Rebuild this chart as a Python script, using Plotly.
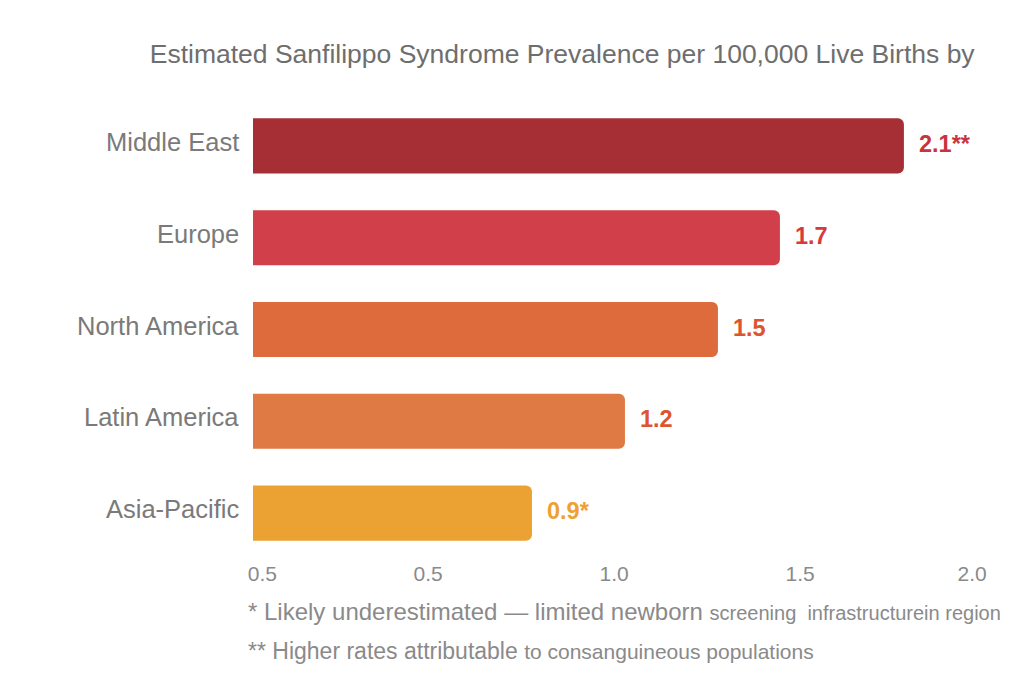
import plotly.graph_objects as go

regions = ["Middle East", "Europe", "North America", "Latin America", "Asia-Pacific"]
prevalence = [2.1, 1.7, 1.5, 1.2, 0.9]
value_labels = ["2.1**", "1.7", "1.5", "1.2", "0.9*"]
bar_colors = ["#a52f34", "#d1404a", "#dd6b3c", "#e07a44", "#eca233"]
label_colors = ["#c8343c", "#d63a40", "#dc5430", "#dc5430", "#f0a030"]
tick_labels = ["0.5", "0.5", "1.0", "1.5", "2.0"]
tick_positions = [0.03, 0.565, 1.165, 1.765, 2.32]

title_text = "Estimated Sanfilippo Syndrome Prevalence per 100,000 Live Births by"
note1 = ("* Likely underestimated \u2014 limited newborn "
         "<span style='font-size:20px'>screening  infrastructurein region</span>")
note2 = ("** Higher rates attributable "
         "<span style='font-size:21px'>to consanguineous populations</span>")

FONT = "Liberation Sans, Arial, sans-serif"

fig = go.Figure()
fig.add_trace(go.Bar(
    x=prevalence, y=regions, orientation="h",
    marker=dict(color=bar_colors, line=dict(width=0)),
    hoverinfo="skip",
))

for v, r, t, c in zip(prevalence, regions, value_labels, label_colors):
    fig.add_annotation(x=v, y=r, text=f"<b>{t}</b>", showarrow=False,
                       xanchor="left", xshift=13, yshift=2,
                       font=dict(family=FONT, size=23.5, color=c))

# category labels (slightly raised relative to bar centres, as in the reference)
for r in regions:
    fig.add_annotation(xref="paper", x=0, y=r, text=r, showarrow=False,
                       xanchor="right", xshift=-12, yshift=4,
                       font=dict(family=FONT, size=25.5, color="#7a7a7a"))

fig.add_annotation(xref="paper", yref="paper", x=0, y=-0.115, xshift=-7,
                   xanchor="left", yanchor="middle", showarrow=False,
                   text=note1, font=dict(family=FONT, size=24, color="#8a8a8a"))
fig.add_annotation(xref="paper", yref="paper", x=0, y=-0.2, xshift=-7,
                   xanchor="left", yanchor="middle", showarrow=False,
                   text=note2, font=dict(family=FONT, size=23, color="#8a8a8a"))

fig.update_layout(
    width=1024, height=683,
    margin=dict(l=253, r=24, t=100, b=124),
    paper_bgcolor="white", plot_bgcolor="white",
    bargap=0.4, barcornerradius=6,
    showlegend=False,
    title=dict(text=title_text, x=0.549, xanchor="center", y=0.922, yanchor="middle",
               font=dict(family=FONT, size=26.5, color="#6e6e6e")),
    xaxis=dict(range=[0, 2.41], tickvals=tick_positions, ticktext=tick_labels,
               showgrid=False, zeroline=False, showline=False, ticks="",
               tickfont=dict(family=FONT, size=21, color="#8a8a8a")),
    yaxis=dict(autorange="reversed", showgrid=False, zeroline=False, showline=False,
               ticks="", showticklabels=False),
)

fig.write_html("out.html")
